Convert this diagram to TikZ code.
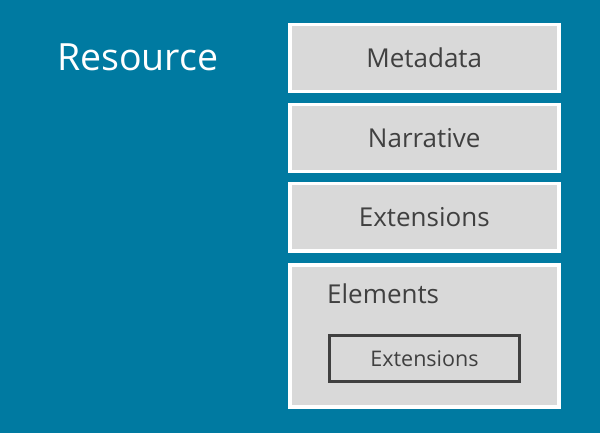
\documentclass[tikz,border=0pt]{standalone}
\usepackage{fontspec}
\setmainfont{Open Sans}
\definecolor{bgteal}{HTML}{007AA1}
\definecolor{boxgray}{HTML}{D9D9D9}
\definecolor{txtgray}{HTML}{404040}
\begin{document}
\begin{tikzpicture}[x=1pt,y=-1pt,
  panel/.style={draw=white,line width=3.5pt,fill=boxgray,inner sep=0pt,anchor=north west},
  lbl/.style={text=txtgray,font=\fontsize{26}{30}\selectfont,inner sep=0pt}]
\fill[bgteal] (0,0) rectangle (600,433);
\useasboundingbox (0,0) rectangle (600,433);
\node[panel,minimum width=269pt,minimum height=67pt] (meta) at (288,23) {};
\node[panel,minimum width=269pt,minimum height=67pt] (narr) at (288,103) {};
\node[panel,minimum width=269pt,minimum height=67pt] (ext) at (288,182) {};
\node[panel,minimum width=269pt,minimum height=142pt] (elem) at (288,263) {};
\node[draw=txtgray,line width=3pt,fill=boxgray,minimum width=190pt,minimum height=46pt,anchor=north west] (iext) at (328,334) {};
\node[lbl] at (meta.center) {Metadata};
\node[lbl] at (narr.center) {Narrative};
\node[lbl] at (ext.center) {Extensions};
\node[lbl,anchor=base west] (elt) at (327,303) {Elements};
\node[lbl,font=\fontsize{21.5}{26}\selectfont] at (iext.center) {Extensions};
\node[text=white,font=\fontsize{37.5}{42}\selectfont,inner sep=0pt,anchor=base west] (res) at (57,71) {Resource};
\end{tikzpicture}
\end{document}
